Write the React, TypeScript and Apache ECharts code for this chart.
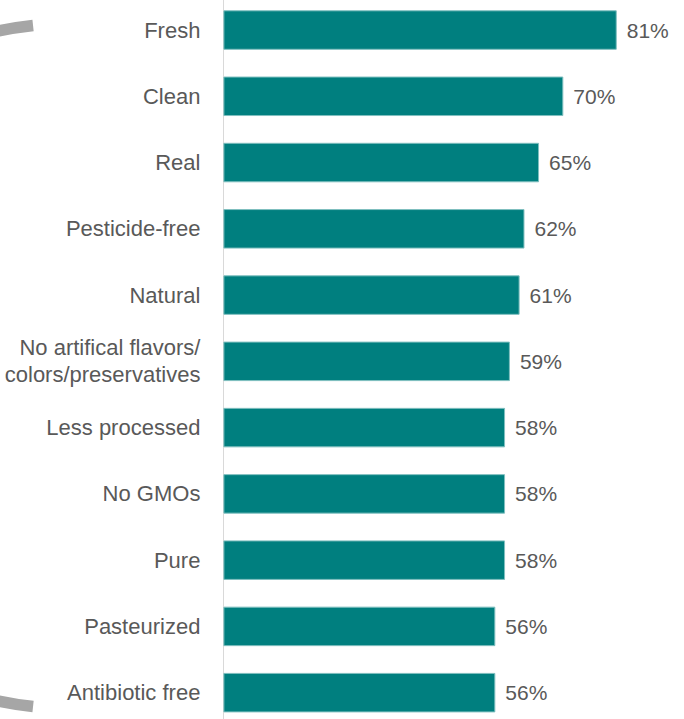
import React, { useEffect, useRef } from "react";
import * as echarts from "echarts";

const categories = [
  "Fresh",
  "Clean",
  "Real",
  "Pesticide-free",
  "Natural",
  "No artifical flavors/\ncolors/preservatives",
  "Less processed",
  "No GMOs",
  "Pure",
  "Pasteurized",
  "Antibiotic free",
];
const values = [81, 70, 65, 62, 61, 59, 58, 58, 58, 56, 56];

const FONT = "'Liberation Sans', Arial, sans-serif";

export default function App() {
  const ref = useRef<HTMLDivElement>(null);
  useEffect(() => {
    if (!ref.current) return;
    const chart = echarts.init(ref.current, undefined, { renderer: "svg" });
    const a = 1.678;
    chart.setOption({
      animation: false,
      backgroundColor: "#ffffff",
      grid: {
        left: 223.4,
        top: -3.1,
        width: 485.6,
        height: 728.9,
        containLabel: false,
        outerBoundsMode: "none",
      },
      xAxis: {
        type: "value",
        min: 0,
        max: 100,
        show: false,
      },
      yAxis: {
        type: "category",
        data: categories,
        inverse: true,
        axisLine: { show: true, lineStyle: { color: "#d9d9d9", width: 1 } },
        axisTick: { show: false },
        axisLabel: {
          color: "#595959",
          fontSize: 22,
          fontFamily: FONT,
          margin: 23,
          lineHeight: 27,
          align: "right",
        },
        splitLine: { show: false },
      },
      graphic: [
        {
          type: "arc",
          z: -1,
          shape: { cx: 69.7, cy: 366, r: 342.5, startAngle: a, endAngle: Math.PI * 2 - a, clockwise: true },
          style: { stroke: "#a6a6a6", lineWidth: 11.5, fill: null },
          silent: true,
        },
      ],
      series: [
        {
          type: "bar",
          data: values,
          barWidth: 39.5,
          itemStyle: { color: "#007f7f", borderColor: "#7fbfbf", borderWidth: 1 },
          label: {
            show: true,
            position: "right",
            distance: 10,
            formatter: "{c}%",
            color: "#595959",
            fontSize: 21,
            fontFamily: FONT,
          },
        },
      ],
    });
    return () => chart.dispose();
  }, []);
  return (
    <div
      ref={ref}
      style={{ position: "fixed", left: 0, top: 0, width: 684, height: 719, background: "#fff" }}
    />
  );
}
